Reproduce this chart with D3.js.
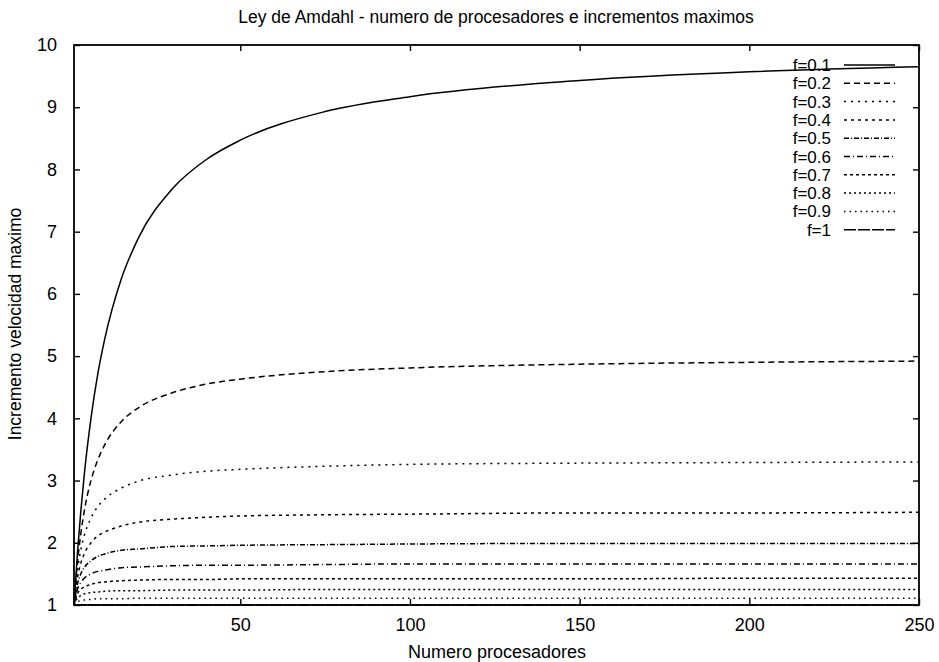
<!DOCTYPE html>
<html>
<head>
<meta charset="utf-8">
<script src="https://cdn.jsdelivr.net/npm/d3@7"></script>
<style>
  body { margin: 0; background: #fff; }
  text { font-family: "Liberation Sans", Arial, sans-serif; fill: #000; }
</style>
</head>
<body>
<script>
// numero de procesadores (x) and speedup
var procs = [1, 2, 3, 4, 6, 8, 10, 15, 20, 30, 40, 50, 75, 100, 150, 200, 250]

var f01 = [1, 1.82, 2.5, 3.08, 4, 4.71, 5.26, 6.25, 6.9, 7.69, 8.16, 8.47, 8.93, 9.17, 9.43, 9.57, 9.65]
var f02 = [1, 1.67, 2.14, 2.5, 3, 3.33, 3.57, 3.95, 4.17, 4.41, 4.55, 4.63, 4.75, 4.81, 4.87, 4.9, 4.92]
var f03 = [1, 1.54, 1.88, 2.11, 2.4, 2.58, 2.7, 2.88, 2.99, 3.09, 3.15, 3.18, 3.23, 3.26, 3.28, 3.29, 3.3]
var f04 = [1, 1.43, 1.67, 1.82, 2, 2.11, 2.17, 2.27, 2.33, 2.38, 2.41, 2.43, 2.45, 2.46, 2.48, 2.48, 2.49]
var f05 = [1, 1.33, 1.5, 1.6, 1.71, 1.78, 1.82, 1.88, 1.9, 1.94, 1.95, 1.96, 1.97, 1.98, 1.99, 1.99, 1.99]
var f06 = [1, 1.25, 1.36, 1.43, 1.5, 1.54, 1.56, 1.6, 1.61, 1.63, 1.64, 1.64, 1.65, 1.66, 1.66, 1.66, 1.66]
var f07 = [1, 1.18, 1.25, 1.29, 1.33, 1.36, 1.37, 1.39, 1.4, 1.41, 1.41, 1.42, 1.42, 1.42, 1.42, 1.43, 1.43]
var f08 = [1, 1.11, 1.15, 1.18, 1.2, 1.21, 1.22, 1.23, 1.23, 1.24, 1.24, 1.24, 1.25, 1.25, 1.25, 1.25, 1.25]
var f09 = [1, 1.05, 1.07, 1.08, 1.09, 1.1, 1.1, 1.1, 1.11, 1.11, 1.11, 1.11, 1.11, 1.11, 1.11, 1.11, 1.11]
var f10 = [1, 1, 1, 1, 1, 1, 1, 1, 1, 1, 1, 1, 1, 1, 1, 1, 1]

var names = ['f=0.1', 'f=0.2', 'f=0.3', 'f=0.4', 'f=0.5', 'f=0.6', 'f=0.7', 'f=0.8', 'f=0.9', 'f=1']
var seriesValues = [f01, f02, f03, f04, f05, f06, f07, f08, f09, f10]

var xTicks = [50, 100, 150, 200, 250]
var yTicks = [1, 2, 3, 4, 5, 6, 7, 8, 9, 10]

// gnuplot-ish dash patterns, one per curve
var dashes = ['none', '6,4', '2,5', '3,4', '5,2,1,2', '6,3,1,3', '3,3', '2,3', '1.5,4', '12,2']

var options = {
  width: 939,
  height: 662,
  left: 74,
  right: 919,
  top: 45,
  bottom: 605,
  font: '"Liberation Sans", Arial, sans-serif'
}

var svg = d3.select('body').append('svg')
  .attr('width', options.width)
  .attr('height', options.height)

var x = d3.scaleLinear().domain([1, 250]).range([options.left, options.right])
var y = d3.scaleLinear().domain([1, 10]).range([options.bottom, options.top])

// title and axis labels
svg.append('text')
  .attr('x', 496).attr('y', 23)
  .attr('text-anchor', 'middle')
  .style('font-size', '17.5px')
  .text('Ley de Amdahl - numero de procesadores e incrementos maximos')

svg.append('text')
  .attr('x', 497).attr('y', 658)
  .attr('text-anchor', 'middle')
  .style('font-size', '18px')
  .text('Numero procesadores')

svg.append('text')
  .attr('transform', 'translate(21,324) rotate(-90)')
  .attr('text-anchor', 'middle')
  .style('font-size', '17.5px')
  .text('Incremento velocidad maximo')

// axes, ticks point inward and are mirrored
function styleAxis(g) {
  g.select('.domain').remove()
  g.selectAll('line').attr('stroke', '#000').attr('stroke-width', 1.4)
  g.selectAll('text').style('font-size', '18px').style('font-family', options.font)
}

svg.append('g')
  .attr('transform', 'translate(0,' + options.bottom + ')')
  .call(d3.axisBottom(x).tickValues(xTicks).tickSize(-6).tickPadding(13))
  .call(styleAxis)

svg.append('g')
  .attr('transform', 'translate(0,' + options.top + ')')
  .call(d3.axisTop(x).tickValues(xTicks).tickSize(-6).tickFormat(''))
  .call(styleAxis)

svg.append('g')
  .attr('transform', 'translate(' + options.left + ',0)')
  .call(d3.axisLeft(y).tickValues(yTicks).tickSize(-6).tickPadding(17))
  .call(styleAxis)

svg.append('g')
  .attr('transform', 'translate(' + options.right + ',0)')
  .call(d3.axisRight(y).tickValues(yTicks).tickSize(-6).tickFormat(''))
  .call(styleAxis)

svg.append('rect')
  .attr('x', options.left).attr('y', options.top)
  .attr('width', options.right - options.left)
  .attr('height', options.bottom - options.top)
  .attr('fill', 'none')
  .attr('stroke', '#000')
  .attr('stroke-width', 1.8)

// curves
var line = d3.line()
  .x(function(d) { return x(d[0]) })
  .y(function(d) { return y(d[1]) })
  .curve(d3.curveMonotoneX)

var data = seriesValues.map(function(vals, i) {
  return { name: names[i], dash: dashes[i], points: procs.map(function(p, j) { return [p, vals[j]] }) }
})

svg.selectAll('path.curve').data(data)
  .enter().append('path')
  .attr('class', 'curve')
  .attr('d', function(d) { return line(d.points) })
  .attr('fill', 'none')
  .attr('stroke', '#000')
  .attr('stroke-width', 1.5)
  .attr('stroke-dasharray', function(d) { return d.dash })

// legend, top right inside the frame
var legend = svg.selectAll('g.legend').data(data)
  .enter().append('g')
  .attr('class', 'legend')
  .attr('transform', function(d, i) { return 'translate(0,' + (65 + i * 18.3) + ')' })

legend.append('text')
  .attr('x', 831).attr('y', 6)
  .attr('text-anchor', 'end')
  .style('font-size', '17px')
  .text(function(d) { return d.name })

legend.append('line')
  .attr('x1', 844).attr('x2', 895)
  .attr('y1', 0).attr('y2', 0)
  .attr('stroke', '#000')
  .attr('stroke-width', 1.5)
  .attr('stroke-dasharray', function(d) { return d.dash })
</script>
</body>
</html>
